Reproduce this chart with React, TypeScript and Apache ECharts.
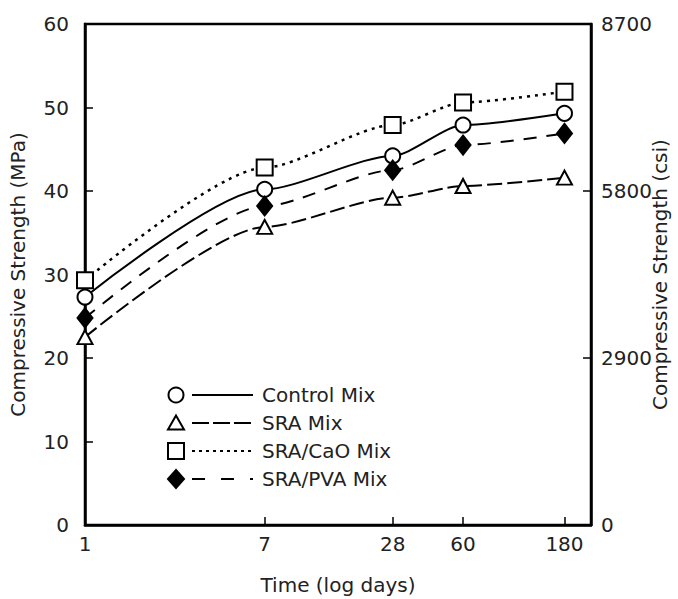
import React, { useEffect, useRef } from "react";
import * as echarts from "echarts";

const DAYS = [1, 7, 28, 60, 180];
const SERIES_NAMES = ["Control Mix", "SRA Mix", "SRA/CaO Mix", "SRA/PVA Mix"];
const CONTROL = [27.3, 40.2, 44.2, 47.9, 49.3];
const SRA = [22.5, 35.7, 39.2, 40.6, 41.6];
const SRA_CAO = [29.3, 42.8, 47.9, 50.6, 51.9];
const SRA_PVA = [24.8, 38.2, 42.5, 45.5, 46.9];
const MPA_RANGE = [0, 60, 10];
const CSI_RANGE = [0, 8700, 2900];

const FONT = "DejaVu Sans";
const TXT = "#222";

const toXY = (vals: number[]) => vals.map((v, i) => [Math.log10(DAYS[i]), v]);

export default function App() {
  const ref = useRef<HTMLDivElement>(null);
  useEffect(() => {
    if (!ref.current) return;
    const chart = echarts.init(ref.current, undefined, { renderer: "svg" });
    const logTicks = DAYS.map((d) => Math.log10(d));

    const styles = [
      { symbol: "circle", size: 15, fill: "#fff", dash: "solid" as any, width: 2 },
      { symbol: "triangle", size: [15, 14], fill: "#fff", dash: [15, 5], width: 2 },
      { symbol: "rect", size: 16, fill: "#fff", dash: [3, 5], width: 2.5 },
      { symbol: "diamond", size: [15, 19], fill: "#000", dash: [13, 10], width: 2 },
    ];
    const datasets = [CONTROL, SRA, SRA_CAO, SRA_PVA];

    const series = datasets.map((vals, i) => ({
      name: SERIES_NAMES[i],
      type: "line",
      data: toXY(vals),
      smooth: 0.25,
      smoothMonotone: "x",
      symbol: styles[i].symbol,
      symbolSize: styles[i].size,
      showSymbol: true,
      lineStyle: { color: "#000", width: styles[i].width, type: styles[i].dash },
      itemStyle: { color: styles[i].fill, borderColor: "#000", borderWidth: 2 },
      z: 2 + i,
    }));

    // legend drawn with graphic elements
    const LY = [395, 423, 451, 479];
    const legendDash = [null, [17, 4], [3, 4], [13, 16]];
    const mx = 176;
    const graphics: any[] = [];
    SERIES_NAMES.forEach((name, i) => {
      const y = LY[i];
      const mStyle = { fill: i === 3 ? "#000" : "#fff", stroke: "#000", lineWidth: 2 };
      if (i === 0) graphics.push({ type: "circle", shape: { cx: mx, cy: y, r: 7.5 }, style: mStyle });
      if (i === 1)
        graphics.push({ type: "polygon", shape: { points: [[mx, y - 7.5], [mx - 8, y + 6.5], [mx + 8, y + 6.5]] }, style: mStyle });
      if (i === 2) graphics.push({ type: "rect", shape: { x: mx - 8, y: y - 8, width: 16, height: 16 }, style: mStyle });
      if (i === 3)
        graphics.push({ type: "polygon", shape: { points: [[mx, y - 9], [mx + 8, y], [mx, y + 9], [mx - 8, y]] }, style: mStyle });
      graphics.push({
        type: "line",
        shape: { x1: 192, y1: y, x2: 253, y2: y },
        style: { stroke: "#000", lineWidth: 2, lineDash: legendDash[i] || undefined },
      });
      graphics.push({
        type: "text",
        x: 262,
        y: y,
        style: { text: name, fontFamily: FONT, fontSize: 20, fill: TXT, verticalAlign: "middle" },
      });
    });

    chart.setOption({
      animation: false,
      backgroundColor: "#fff",
      grid: {
        left: 85,
        right: 87,
        top: 24,
        bottom: 74,
        outerBoundsMode: "none",
        containLabel: false,
        show: true,
        borderColor: "#000",
        borderWidth: 2.5,
      },
      xAxis: {
        type: "value",
        min: 0,
        max: 2.38,
        name: "Time (log days)",
        nameLocation: "middle",
        nameGap: 50,
        nameMoveOverlap: false,
        nameTextStyle: { fontFamily: FONT, fontSize: 20, color: TXT },
        axisLine: { lineStyle: { color: "#000", width: 2.5 } },
        axisTick: { inside: true, length: 8, customValues: logTicks, lineStyle: { color: "#000", width: 1.5 } },
        axisLabel: {
          customValues: logTicks,
          margin: 9,
          fontFamily: FONT,
          fontSize: 20,
          color: TXT,
          formatter: (v: number) => String(Math.round(Math.pow(10, v))),
        },
        splitLine: { show: false },
      },
      yAxis: [
        {
          type: "value",
          min: MPA_RANGE[0],
          max: MPA_RANGE[1],
          interval: MPA_RANGE[2],
          name: "Compressive Strength (MPa)",
          nameLocation: "middle",
          nameRotate: 90,
          nameGap: 57,
          nameMoveOverlap: false,
          nameTextStyle: { fontFamily: FONT, fontSize: 20, color: TXT },
          axisLine: { show: true, lineStyle: { color: "#000", width: 2.5 } },
          axisTick: { show: true, inside: true, length: 8, lineStyle: { color: "#000", width: 1.5 } },
          axisLabel: { margin: 16, fontFamily: FONT, fontSize: 20, color: TXT },
          splitLine: { show: false },
        },
        {
          type: "value",
          position: "right",
          min: CSI_RANGE[0],
          max: CSI_RANGE[1],
          interval: CSI_RANGE[2],
          name: "Compressive Strength (csi)",
          nameLocation: "middle",
          nameRotate: 90,
          nameGap: 59,
          nameMoveOverlap: false,
          nameTextStyle: { fontFamily: FONT, fontSize: 20, color: TXT },
          axisLine: { show: true, lineStyle: { color: "#000", width: 2.5 } },
          axisTick: { show: true, inside: true, length: 8, lineStyle: { color: "#000", width: 1.5 } },
          axisLabel: { margin: 10, fontFamily: FONT, fontSize: 20, color: TXT, formatter: (v: number) => String(v) },
          splitLine: { show: false },
        },
      ],
      series,
      graphic: graphics,
    });
    return () => chart.dispose();
  }, []);
  return (
    <div
      ref={ref}
      style={{ position: "fixed", left: 0, top: 0, width: 678, height: 599, background: "#fff" }}
    />
  );
}
